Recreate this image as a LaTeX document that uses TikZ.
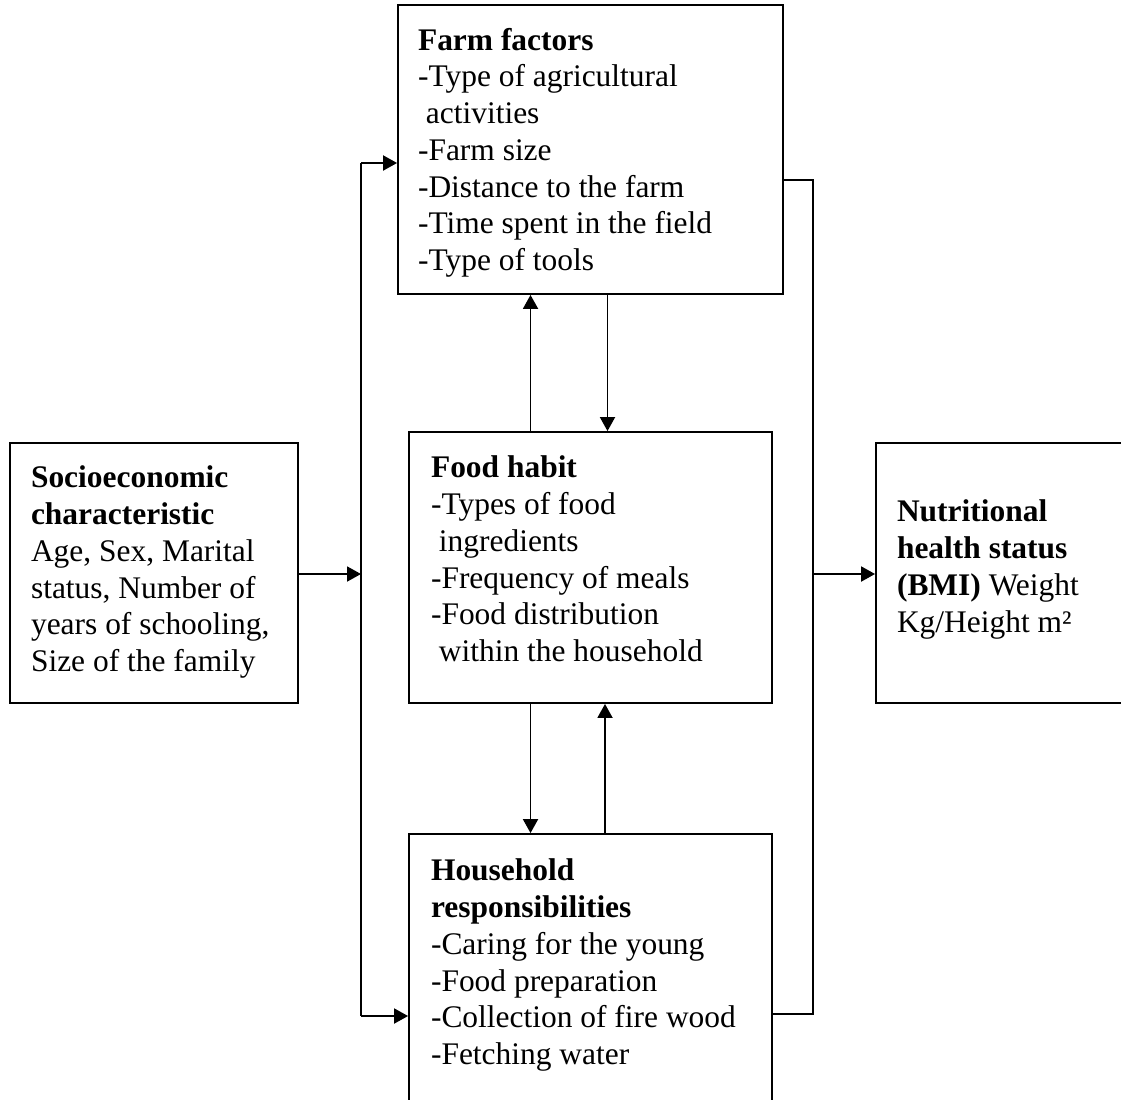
\documentclass[tikz,border=0pt]{standalone}
\usepackage{fontspec}
\setmainfont{Liberation Serif}
\usepackage{tikz}
\usetikzlibrary{arrows.meta,positioning,calc}

\newcommand{\ind}{\hspace*{0.25em}}

\begin{document}
\begin{tikzpicture}[
x=0.02cm, y=-0.02cm,
line width=1.1pt,
box/.style={draw, rectangle, inner sep=0pt},
txt/.style={anchor=north west, inner sep=0pt, align=left, font=\fontsize{17.9pt}{20.9pt}\selectfont},
arr/.style={-{Triangle[length=0.28cm, width=0.3cm]}}
]
\useasboundingbox (0,0) rectangle (1121,1099);

% Boxes
\node[box, minimum width=7.70cm, minimum height=5.78cm] (farm) at (590.5,149.5) {};
\node[box, minimum width=5.76cm, minimum height=5.20cm] (socio) at (154,573) {};
\node[box, minimum width=7.26cm, minimum height=5.42cm] (food) at (590.5,567.5) {};
\node[box, minimum width=7.26cm, minimum height=5.72cm] (house) at (590.5,977) {};
\node[box, minimum width=5.28cm, minimum height=5.20cm] (nutr) at (1008,573) {};

% Texts
\node[txt] (farmtxt) at ([shift={(20,23)}]farm.north west)
  {\textbf{Farm factors}\\-Type of agricultural\\\ind activities\\-Farm size\\-Distance to the farm\\-Time spent in the field\\-Type of tools};
\node[txt] (sociotxt) at ([shift={(21,23)}]socio.north west)
  {\textbf{Socioeconomic}\\\textbf{characteristic}\\Age, Sex, Marital\\status, Number of\\years of schooling,\\Size of the family};
\node[txt] (foodtxt) at ([shift={(22,24)}]food.north west)
  {\textbf{Food habit}\\-Types of food\\\ind ingredients\\-Frequency of meals\\-Food distribution\\\ind within the household};
\node[txt] (housetxt) at ([shift={(22,25)}]house.north west)
  {\textbf{Household}\\\textbf{responsibilities}\\-Caring for the young\\-Food preparation\\-Collection of fire wood\\-Fetching water};
\node[txt] (nutrtxt) at ([shift={(21,57)}]nutr.north west)
  {\textbf{Nutritional}\\\textbf{health status}\\\textbf{(BMI)} Weight\\Kg/Height m²};

% Left bus
\coordinate (ltop) at (361,163);
\coordinate (lmid) at (361,574);
\coordinate (lbot) at (361,1016);
\draw[arr] (socio.east |- lmid) -- (lmid);
\draw (ltop) -- (lbot);
\draw[arr] (ltop) -- (ltop -| farm.west);
\draw[arr] (lbot) -- (lbot -| house.west);

% Right bus
\coordinate (rtop) at (813,180);
\coordinate (rmid) at (813,574);
\coordinate (rbot) at (813,1014);
\draw (farm.east |- rtop) -- (rtop) -- (rbot) -- (house.east |- rbot);
\draw[arr] (rmid) -- (rmid -| nutr.west);

% Vertical links
\draw[arr] ([xshift=-1.2cm]food.north) -- ([xshift=-1.2cm]farm.south);
\draw[arr] ([xshift=0.34cm]farm.south) -- ([xshift=0.34cm]food.north);
\draw[arr] ([xshift=-1.2cm]food.south) -- ([xshift=-1.2cm]house.north);
\draw[arr] ([xshift=0.29cm]house.north) -- ([xshift=0.29cm]food.south);

\end{tikzpicture}
\end{document}
